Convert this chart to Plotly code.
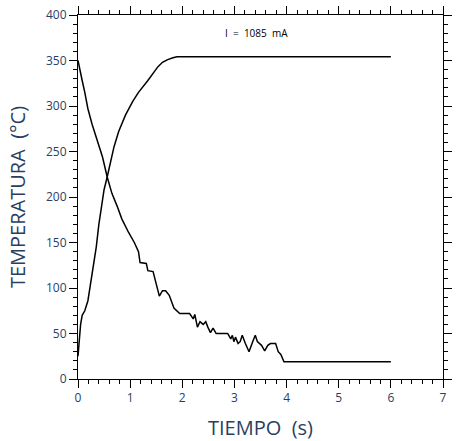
import plotly.graph_objects as go

# Heating curve (temperature rise) and cooling curve, I = 1085 mA
t_heat = [0.00, 0.02, 0.05, 0.08, 0.13, 0.19, 0.28, 0.35, 0.40, 0.45, 0.50,
          0.56, 0.62, 0.69, 0.78, 0.91, 1.05, 1.16, 1.34, 1.45, 1.53, 1.62,
          1.72, 1.82, 1.90, 6.00]
T_heat = [25, 40, 60, 70, 75, 86, 120, 145, 170, 192, 208,
          222, 238, 255, 272, 290, 305, 315, 328, 337, 343, 348,
          351, 353, 354, 354]

t_cool = [0.00, 0.03, 0.08, 0.13, 0.19, 0.27, 0.35, 0.47, 0.56, 0.65, 0.75,
          0.84, 0.97, 1.08, 1.16, 1.19, 1.31, 1.34, 1.44, 1.50, 1.56, 1.62,
          1.68, 1.75, 1.84, 1.95, 2.14, 2.21, 2.24, 2.29, 2.34, 2.40, 2.45,
          2.49, 2.54, 2.59, 2.65, 2.87, 2.93, 2.96, 2.99, 3.02, 3.07, 3.11,
          3.15, 3.21, 3.28, 3.35, 3.40, 3.44, 3.52, 3.58, 3.64, 3.69, 3.79,
          3.84, 3.89, 3.95, 6.00]
T_cool = [350, 343, 328, 315, 297, 280, 265, 244, 222, 204, 190,
          176, 161, 150, 140, 128, 127, 119, 118, 105, 91, 97,
          97, 92, 78, 72, 72, 66, 71, 57, 63, 60, 63,
          57, 51, 56, 50, 50, 44, 48, 41, 46, 39, 41,
          48, 39, 30, 41, 48, 41, 37, 31, 37, 39, 39,
          30, 27, 19, 19]

line_style = dict(color="black", width=1.5)

fig = go.Figure()
fig.add_trace(go.Scatter(x=t_heat, y=T_heat, mode="lines", line=line_style,
                         showlegend=False))
fig.add_trace(go.Scatter(x=t_cool, y=T_cool, mode="lines", line=line_style,
                         showlegend=False))

fig.add_annotation(x=3.43, y=380, text="I  =  1085  mA", showarrow=False,
                   font=dict(size=10, color="black"))

fig.update_layout(
    width=458, height=441, margin=dict(l=78, r=6, t=14, b=54),
    plot_bgcolor="white",
    xaxis=dict(range=[0, 7], dtick=1, ticks="outside", ticklen=8,
               tickcolor="black", showline=True, linecolor="black",
               mirror="ticks",
               minor=dict(dtick=0.2, ticks="outside", ticklen=4),
               title=dict(text="TIEMPO\u00a0\u00a0(s)", font=dict(size=20))),
    yaxis=dict(range=[0, 400], dtick=50, ticks="outside", ticklen=8,
               tickcolor="black", showline=True, linecolor="black",
               mirror="ticks",
               minor=dict(dtick=10, ticks="outside", ticklen=4),
               title=dict(text="TEMPERATURA\u00a0\u00a0(°C)",
                          font=dict(size=20))),
)

fig.write_html("out.html")
